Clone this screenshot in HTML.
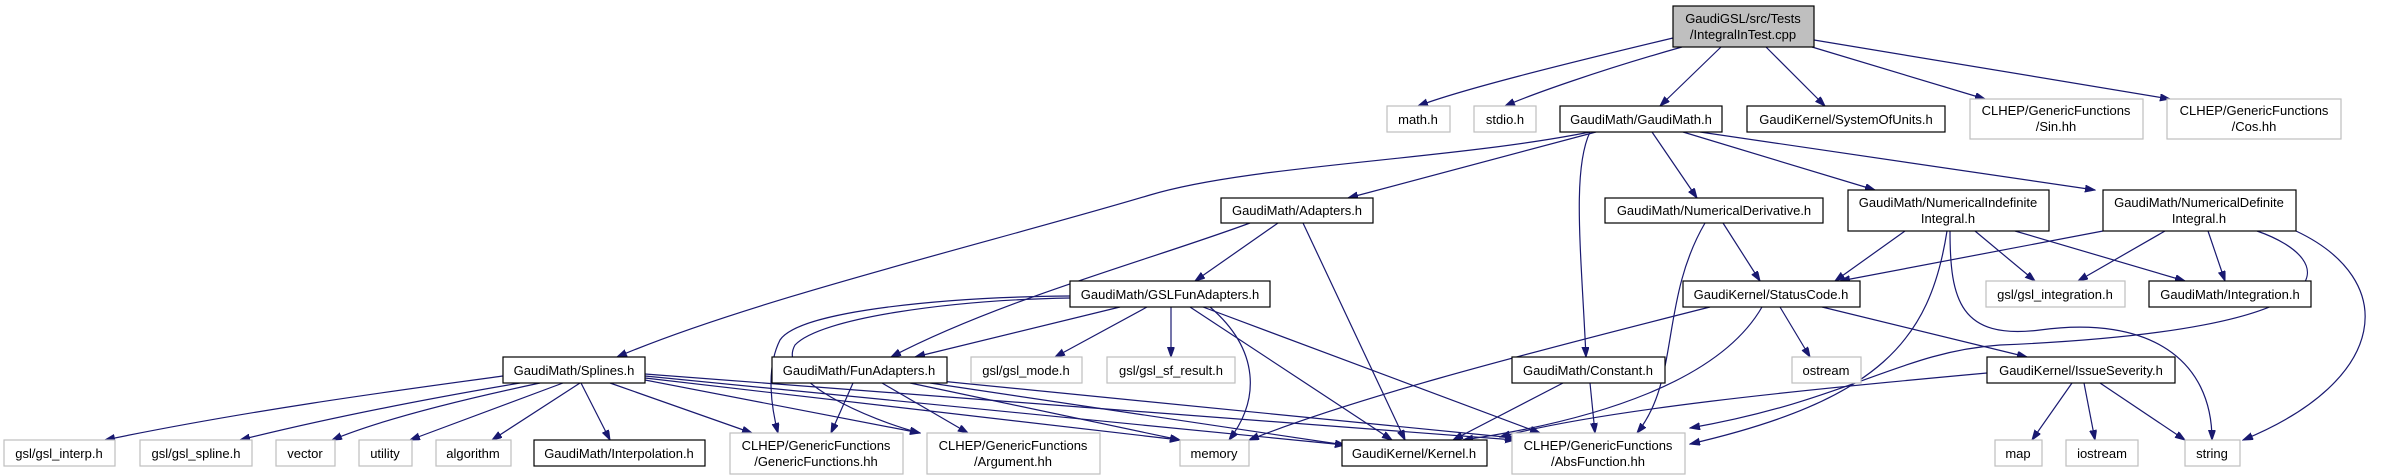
<!DOCTYPE html>
<html><head><meta charset="utf-8"><style>
html,body{margin:0;padding:0;background:#fff;}
svg{display:block;}
text{font-family:"Liberation Sans",Arial,sans-serif;font-size:13px;fill:#000;text-anchor:middle;}
.n{fill:#fff;stroke:#000;stroke-width:1.2;}
.g{fill:#fff;stroke:#bfbfbf;stroke-width:1.2;}
.e{fill:none;stroke:#191970;stroke-width:1.2;marker-end:url(#a);}
</style></head><body>
<svg width="2384" height="475" viewBox="0 0 2384 475" xmlns="http://www.w3.org/2000/svg">
<defs><marker id="a" markerUnits="userSpaceOnUse" markerWidth="11" markerHeight="8" refX="10" refY="3.5" orient="auto"><path d="M0,0 L10,3.5 L0,7 z" fill="#191970" stroke="#191970"/></marker></defs>

<!-- edges -->
<path class="e" d="M1673,38 C1560,65 1460,90 1418,106"/>
<path class="e" d="M1682,47 C1600,70 1530,95 1505,106"/>
<path class="e" d="M1721,47 L1660,106"/>
<path class="e" d="M1766,47 L1825,106"/>
<path class="e" d="M1812,47 L1985,99"/>
<path class="e" d="M1814,40 L2170,99"/>

<path class="e" d="M1590,132 C1450,160 1250,165 1150,195 C1000,240 750,300 617,357"/>
<path class="e" d="M1596,132 L1348,198"/>
<path class="e" d="M1590,132 C1572,170 1581,250 1586,357"/>
<path class="e" d="M1652,132 L1697,198"/>
<path class="e" d="M1683,132 L1875,190"/>
<path class="e" d="M1700,132 L2095,190"/>

<path class="e" d="M1250,223 C1150,260 1000,300 891,357"/>
<path class="e" d="M1278,223 L1195,281"/>
<path class="e" d="M1303,223 L1405,440"/>

<path class="e" d="M1120,307 L915,357"/>
<path class="e" d="M1147,307 L1055,357"/>
<path class="e" d="M1171,307 L1171,357"/>
<path class="e" d="M1210,307 C1260,350 1260,400 1229,440"/>
<path class="e" d="M1190,307 L1392,440"/>
<path class="e" d="M1203,307 L1540,433"/>
<path class="e" d="M1070,296 C950,297 800,310 780,340 C765,370 772,410 778,433"/>
<path class="e" d="M1070,298 C950,300 820,318 795,345 C775,380 870,420 920,433"/>

<path class="e" d="M503,376 C400,390 250,410 105,440"/>
<path class="e" d="M520,383 C420,400 320,420 240,440"/>
<path class="e" d="M540,383 C460,400 380,420 332,440"/>
<path class="e" d="M563,383 L410,440"/>
<path class="e" d="M580,383 L492,440"/>
<path class="e" d="M581,383 L610,440"/>
<path class="e" d="M610,383 L752,433"/>
<path class="e" d="M645,380 L920,433"/>
<path class="e" d="M645,378 L1180,440"/>
<path class="e" d="M645,376 L1345,445"/>
<path class="e" d="M645,374 L1515,440"/>

<path class="e" d="M853,383 L831,433"/>
<path class="e" d="M882,383 L968,433"/>
<path class="e" d="M910,383 L1180,440"/>
<path class="e" d="M930,383 L1345,445"/>
<path class="e" d="M940,381 L1515,438"/>

<path class="e" d="M1563,383 L1453,440"/>
<path class="e" d="M1590,383 L1595,433"/>

<path class="e" d="M1705,223 C1660,300 1680,380 1637,433"/>
<path class="e" d="M1723,223 L1760,281"/>

<path class="e" d="M1905,231 L1835,281"/>
<path class="e" d="M1975,231 L2035,281"/>
<path class="e" d="M2015,231 L2185,281"/>
<path class="e" d="M1947,231 C1930,340 1880,400 1690,444"/>
<path class="e" d="M1950,231 C1950,300 1960,340 2040,330 C2150,315 2212,360 2212,440"/>

<path class="e" d="M2103,231 L1840,281"/>
<path class="e" d="M2165,231 L2078,281"/>
<path class="e" d="M2208,231 L2225,281"/>
<path class="e" d="M2257,231 C2340,260 2360,330 2000,345 C1900,352 1850,400 1690,428"/>
<path class="e" d="M2296,231 C2400,280 2390,380 2243,440"/>

<path class="e" d="M1710,307 C1500,360 1350,400 1249,440"/>
<path class="e" d="M1762,307 C1720,380 1600,420 1463,440"/>
<path class="e" d="M1780,307 L1810,357"/>
<path class="e" d="M1822,307 L2027,357"/>

<path class="e" d="M1987,373 C1800,390 1600,410 1500,437"/>
<path class="e" d="M2072,383 L2032,440"/>
<path class="e" d="M2084,383 L2095,440"/>
<path class="e" d="M2100,383 L2185,440"/>

<!-- nodes -->
<rect x="1673" y="6" width="141" height="41" fill="#bfbfbf" stroke="#000" stroke-width="1.2"/>
<text x="1743" y="23">GaudiGSL/src/Tests</text><text x="1743" y="39">/IntegralInTest.cpp</text>

<rect class="g" x="1387" y="106" width="63" height="26"/><text x="1418" y="124">math.h</text>
<rect class="g" x="1474" y="106" width="62" height="26"/><text x="1505" y="124">stdio.h</text>
<rect class="n" x="1560" y="106" width="162" height="26"/><text x="1641" y="124">GaudiMath/GaudiMath.h</text>
<rect class="n" x="1747" y="106" width="198" height="26"/><text x="1846" y="124">GaudiKernel/SystemOfUnits.h</text>
<rect class="g" x="1970" y="99" width="173" height="40"/><text x="2056" y="115">CLHEP/GenericFunctions</text><text x="2056" y="131">/Sin.hh</text>
<rect class="g" x="2167" y="99" width="174" height="40"/><text x="2254" y="115">CLHEP/GenericFunctions</text><text x="2254" y="131">/Cos.hh</text>

<rect class="n" x="1221" y="198" width="152" height="25"/><text x="1297" y="215">GaudiMath/Adapters.h</text>
<rect class="n" x="1605" y="198" width="218" height="25"/><text x="1714" y="215">GaudiMath/NumericalDerivative.h</text>
<rect class="n" x="1848" y="190" width="201" height="41"/><text x="1948" y="207">GaudiMath/NumericalIndefinite</text><text x="1948" y="223">Integral.h</text>
<rect class="n" x="2103" y="190" width="193" height="41"/><text x="2199" y="207">GaudiMath/NumericalDefinite</text><text x="2199" y="223">Integral.h</text>

<rect class="n" x="1070" y="281" width="200" height="26"/><text x="1170" y="299">GaudiMath/GSLFunAdapters.h</text>
<rect class="n" x="1683" y="281" width="177" height="26"/><text x="1771" y="299">GaudiKernel/StatusCode.h</text>
<rect class="g" x="1986" y="281" width="139" height="26"/><text x="2055" y="299">gsl/gsl_integration.h</text>
<rect class="n" x="2149" y="281" width="162" height="26"/><text x="2230" y="299">GaudiMath/Integration.h</text>

<rect class="n" x="503" y="357" width="142" height="26"/><text x="574" y="375">GaudiMath/Splines.h</text>
<rect class="n" x="772" y="357" width="175" height="26"/><text x="859" y="375">GaudiMath/FunAdapters.h</text>
<rect class="g" x="971" y="357" width="111" height="26"/><text x="1026" y="375">gsl/gsl_mode.h</text>
<rect class="g" x="1107" y="357" width="128" height="26"/><text x="1171" y="375">gsl/gsl_sf_result.h</text>
<rect class="n" x="1512" y="357" width="153" height="26"/><text x="1588" y="375">GaudiMath/Constant.h</text>
<rect class="g" x="1792" y="357" width="69" height="26"/><text x="1826" y="375">ostream</text>
<rect class="n" x="1987" y="357" width="188" height="26"/><text x="2081" y="375">GaudiKernel/IssueSeverity.h</text>

<rect class="g" x="4" y="440" width="111" height="26"/><text x="59" y="458">gsl/gsl_interp.h</text>
<rect class="g" x="140" y="440" width="112" height="26"/><text x="196" y="458">gsl/gsl_spline.h</text>
<rect class="g" x="276" y="440" width="59" height="26"/><text x="305" y="458">vector</text>
<rect class="g" x="359" y="440" width="53" height="26"/><text x="385" y="458">utility</text>
<rect class="g" x="436" y="440" width="75" height="26"/><text x="473" y="458">algorithm</text>
<rect class="n" x="534" y="440" width="171" height="26"/><text x="619" y="458">GaudiMath/Interpolation.h</text>
<rect class="g" x="730" y="433" width="173" height="41"/><text x="816" y="450">CLHEP/GenericFunctions</text><text x="816" y="466">/GenericFunctions.hh</text>
<rect class="g" x="927" y="433" width="173" height="41"/><text x="1013" y="450">CLHEP/GenericFunctions</text><text x="1013" y="466">/Argument.hh</text>
<rect class="g" x="1180" y="440" width="69" height="26"/><text x="1214" y="458">memory</text>
<rect class="n" x="1342" y="440" width="145" height="26"/><text x="1414" y="458">GaudiKernel/Kernel.h</text>
<rect class="g" x="1512" y="433" width="173" height="41"/><text x="1598" y="450">CLHEP/GenericFunctions</text><text x="1598" y="466">/AbsFunction.hh</text>
<rect class="g" x="1995" y="440" width="47" height="26"/><text x="2018" y="458">map</text>
<rect class="g" x="2066" y="440" width="72" height="26"/><text x="2102" y="458">iostream</text>
<rect class="g" x="2185" y="440" width="55" height="26"/><text x="2212" y="458">string</text>
</svg>
</body></html>
